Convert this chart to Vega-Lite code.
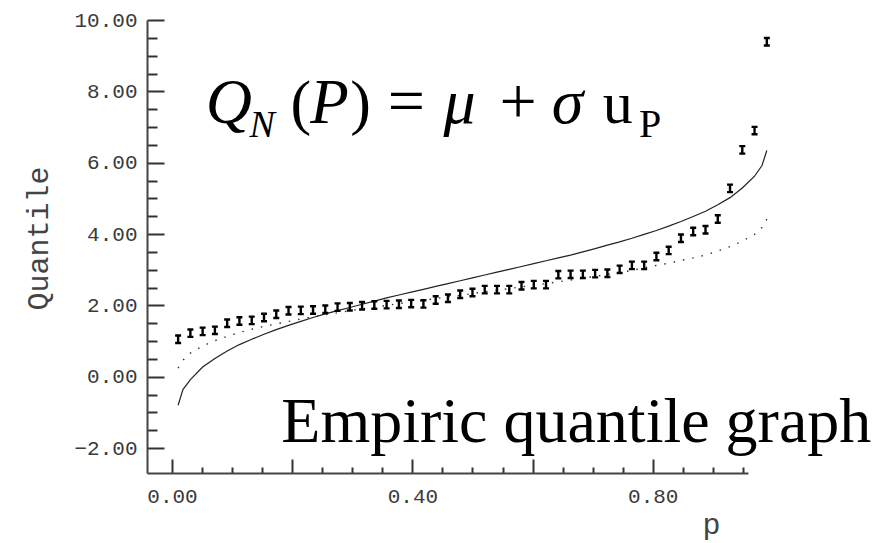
{
  "$schema": "https://vega.github.io/schema/vega-lite/v6.json",
  "autosize": {"type": "none"},
  "width": 601,
  "height": 453,
  "padding": {"left": 147, "top": 20, "right": 142, "bottom": 70},
  "background": "white",
  "config": {"view": {"stroke": null}},
  "datasets": {
    "sample": [
      {"p": 0.0102, "q": 1.05}, {"p": 0.0306, "q": 1.22}, {"p": 0.0510, "q": 1.27},
      {"p": 0.0714, "q": 1.30}, {"p": 0.0918, "q": 1.50}, {"p": 0.1122, "q": 1.56},
      {"p": 0.1327, "q": 1.58}, {"p": 0.1531, "q": 1.66}, {"p": 0.1735, "q": 1.75},
      {"p": 0.1939, "q": 1.85}, {"p": 0.2143, "q": 1.86}, {"p": 0.2347, "q": 1.87},
      {"p": 0.2551, "q": 1.89}, {"p": 0.2755, "q": 1.95}, {"p": 0.2959, "q": 1.96},
      {"p": 0.3163, "q": 1.99}, {"p": 0.3367, "q": 2.01}, {"p": 0.3571, "q": 2.02},
      {"p": 0.3776, "q": 2.03}, {"p": 0.3980, "q": 2.05}, {"p": 0.4184, "q": 2.04},
      {"p": 0.4388, "q": 2.15}, {"p": 0.4592, "q": 2.20}, {"p": 0.4796, "q": 2.31},
      {"p": 0.5000, "q": 2.36}, {"p": 0.5204, "q": 2.44}, {"p": 0.5408, "q": 2.44},
      {"p": 0.5612, "q": 2.44}, {"p": 0.5816, "q": 2.55}, {"p": 0.6020, "q": 2.58},
      {"p": 0.6224, "q": 2.58}, {"p": 0.6429, "q": 2.86}, {"p": 0.6633, "q": 2.87},
      {"p": 0.6837, "q": 2.87}, {"p": 0.7041, "q": 2.89}, {"p": 0.7245, "q": 2.90},
      {"p": 0.7449, "q": 3.01}, {"p": 0.7653, "q": 3.12}, {"p": 0.7857, "q": 3.12},
      {"p": 0.8061, "q": 3.37}, {"p": 0.8265, "q": 3.54}, {"p": 0.8469, "q": 3.88},
      {"p": 0.8673, "q": 4.07}, {"p": 0.8878, "q": 4.12}, {"p": 0.9082, "q": 4.42},
      {"p": 0.9286, "q": 5.28}, {"p": 0.9490, "q": 6.36}, {"p": 0.9694, "q": 6.90},
      {"p": 0.9898, "q": 9.39}
    ],
    "fitted": [
      {"p": 0.0102, "normal": -0.80, "robust": 0.24}, {"p": 0.0182, "normal": -0.36, "robust": 0.46},
      {"p": 0.0306, "normal": -0.08, "robust": 0.66},
      {"p": 0.0510, "normal": 0.27, "robust": 0.86}, {"p": 0.0714, "normal": 0.51, "robust": 1.01},
      {"p": 0.0918, "normal": 0.72, "robust": 1.13}, {"p": 0.1122, "normal": 0.90, "robust": 1.24},
      {"p": 0.1327, "normal": 1.05, "robust": 1.33}, {"p": 0.1531, "normal": 1.19, "robust": 1.41},
      {"p": 0.1735, "normal": 1.32, "robust": 1.48}, {"p": 0.1939, "normal": 1.44, "robust": 1.55},
      {"p": 0.2143, "normal": 1.55, "robust": 1.62}, {"p": 0.2347, "normal": 1.66, "robust": 1.68},
      {"p": 0.2551, "normal": 1.76, "robust": 1.74}, {"p": 0.2755, "normal": 1.85, "robust": 1.79},
      {"p": 0.2959, "normal": 1.94, "robust": 1.85}, {"p": 0.3163, "normal": 2.03, "robust": 1.90},
      {"p": 0.3367, "normal": 2.12, "robust": 1.95}, {"p": 0.3571, "normal": 2.21, "robust": 2.00},
      {"p": 0.3776, "normal": 2.29, "robust": 2.05}, {"p": 0.3980, "normal": 2.37, "robust": 2.10},
      {"p": 0.4184, "normal": 2.45, "robust": 2.14}, {"p": 0.4388, "normal": 2.53, "robust": 2.19},
      {"p": 0.4592, "normal": 2.61, "robust": 2.24}, {"p": 0.4796, "normal": 2.69, "robust": 2.28},
      {"p": 0.5000, "normal": 2.77, "robust": 2.33}, {"p": 0.5204, "normal": 2.85, "robust": 2.38},
      {"p": 0.5408, "normal": 2.93, "robust": 2.42}, {"p": 0.5612, "normal": 3.01, "robust": 2.47},
      {"p": 0.5816, "normal": 3.09, "robust": 2.52}, {"p": 0.6020, "normal": 3.17, "robust": 2.56},
      {"p": 0.6224, "normal": 3.25, "robust": 2.61}, {"p": 0.6429, "normal": 3.33, "robust": 2.66},
      {"p": 0.6633, "normal": 3.41, "robust": 2.71}, {"p": 0.6837, "normal": 3.50, "robust": 2.76},
      {"p": 0.7041, "normal": 3.59, "robust": 2.81}, {"p": 0.7245, "normal": 3.69, "robust": 2.87},
      {"p": 0.7449, "normal": 3.78, "robust": 2.92}, {"p": 0.7653, "normal": 3.88, "robust": 2.98},
      {"p": 0.7857, "normal": 3.99, "robust": 3.05}, {"p": 0.8061, "normal": 4.10, "robust": 3.12},
      {"p": 0.8265, "normal": 4.22, "robust": 3.18}, {"p": 0.8469, "normal": 4.35, "robust": 3.26},
      {"p": 0.8673, "normal": 4.49, "robust": 3.33}, {"p": 0.8878, "normal": 4.64, "robust": 3.41},
      {"p": 0.9082, "normal": 4.82, "robust": 3.52}, {"p": 0.9286, "normal": 5.02, "robust": 3.65},
      {"p": 0.9490, "normal": 5.29, "robust": 3.80}, {"p": 0.9694, "normal": 5.62, "robust": 3.99},
      {"p": 0.9818, "normal": 5.92, "robust": 4.18},
      {"p": 0.9898, "normal": 6.34, "robust": 4.42}
    ],
    "one": [{}]
  },
  "encoding": {
    "x": {
      "type": "quantitative",
      "scale": {"domain": [-0.0416, 0.9585], "nice": false, "zero": false},
      "axis": {
        "title": "p",
        "titleFont": "Liberation Mono",
        "titleFontSize": 30,
        "titleFontWeight": "normal",
        "titleColor": "#444444",
        "titleAnchor": "start",
        "titleAlign": "center",
        "titleBaseline": "alphabetic",
        "titleX": 564,
        "titleY": 60,
        "values": [0, 0.05, 0.1, 0.15, 0.2, 0.25, 0.3, 0.35, 0.4, 0.45, 0.5, 0.55, 0.6, 0.65, 0.7, 0.75, 0.8, 0.85, 0.9, 0.95],
        "labelExpr": "abs(datum.value * 2.5 - round(datum.value * 2.5)) < 0.01 ? format(datum.value, '.2f') : ''",
        "labelFont": "Liberation Mono",
        "labelFontSize": 21,
        "labelColor": "#3a3a3a",
        "labelPadding": 26,
        "labelBaseline": "top",
        "labelFlush": false,
        "labelOverlap": false,
        "grid": false,
        "domainColor": "#444444",
        "domainWidth": 2,
        "tickColor": "#333333",
        "tickWidth": 2,
        "tickSize": {"condition": {"test": "abs(datum.value * 5 - round(datum.value * 5)) < 0.01", "value": -14}, "value": -6}
      }
    },
    "y": {
      "type": "quantitative",
      "scale": {"domain": [-2.7, 10], "nice": false, "zero": false},
      "axis": {
        "title": "Quantile",
        "titleFont": "Liberation Mono",
        "titleFontSize": 30,
        "titleFontWeight": "normal",
        "titleColor": "#444444",
        "titleAngle": -90,
        "titleAlign": "center",
        "titleBaseline": "middle",
        "titleX": -109,
        "titleY": 218,
        "values": [-2, -1.5, -1, -0.5, 0, 0.5, 1, 1.5, 2, 2.5, 3, 3.5, 4, 4.5, 5, 5.5, 6, 6.5, 7, 7.5, 8, 8.5, 9, 9.5, 10],
        "labelExpr": "abs(datum.value / 2 - round(datum.value / 2)) < 0.01 ? format(datum.value, '.2f') : ''",
        "labelFont": "Liberation Mono",
        "labelFontSize": 21,
        "labelColor": "#3a3a3a",
        "labelPadding": 27,
        "labelFlush": false,
        "labelOverlap": false,
        "grid": false,
        "domainColor": "#444444",
        "domainWidth": 2,
        "tickColor": "#333333",
        "tickWidth": 2,
        "tickSize": {"condition": {"test": "abs(datum.value / 2 - round(datum.value / 2)) < 0.01", "value": -17}, "value": -10}
      }
    }
  },
  "layer": [
    {
      "data": {"name": "fitted"},
      "mark": {"type": "line", "color": "#222222", "strokeWidth": 1.2},
      "encoding": {"x": {"field": "p", "type": "quantitative"}, "y": {"field": "normal", "type": "quantitative"}}
    },
    {
      "data": {"name": "fitted"},
      "mark": {"type": "line", "color": "#333333", "strokeWidth": 1.4, "strokeDash": [1.5, 8]},
      "encoding": {"x": {"field": "p", "type": "quantitative"}, "y": {"field": "robust", "type": "quantitative"}}
    },
    {
      "data": {"name": "sample"},
      "mark": {"type": "point", "shape": "M-0.8,-1H0.8M0,-1V1M-0.8,1H0.8", "size": 56, "filled": false, "stroke": "#000000", "strokeWidth": 2.4, "opacity": 1},
      "encoding": {"x": {"field": "p", "type": "quantitative"}, "y": {"field": "q", "type": "quantitative"}}
    },
    {
      "data": {"name": "one"},
      "mark": {"type": "text", "text": "Q", "font": "Liberation Serif", "fontStyle": "italic", "fontSize": 64, "align": "left", "baseline": "alphabetic", "color": "#000000"},
      "encoding": {"x": {"datum": 0.0560}, "y": {"datum": 7.114}}
    },
    {
      "data": {"name": "one"},
      "mark": {"type": "text", "text": "N", "font": "Liberation Serif", "fontStyle": "italic", "fontSize": 38, "align": "left", "baseline": "alphabetic", "color": "#000000"},
      "encoding": {"x": {"datum": 0.1289}, "y": {"datum": 6.722}}
    },
    {
      "data": {"name": "one"},
      "mark": {"type": "text", "text": "(", "font": "Liberation Serif", "fontSize": 62, "align": "left", "baseline": "alphabetic", "color": "#000000"},
      "encoding": {"x": {"datum": 0.1970}, "y": {"datum": 7.114}}
    },
    {
      "data": {"name": "one"},
      "mark": {"type": "text", "text": "P", "font": "Liberation Serif", "fontStyle": "italic", "fontSize": 63, "align": "left", "baseline": "alphabetic", "color": "#000000"},
      "encoding": {"x": {"datum": 0.2300}, "y": {"datum": 7.114}}
    },
    {
      "data": {"name": "one"},
      "mark": {"type": "text", "text": ")", "font": "Liberation Serif", "fontSize": 62, "align": "left", "baseline": "alphabetic", "color": "#000000"},
      "encoding": {"x": {"datum": 0.2965}, "y": {"datum": 7.114}}
    },
    {
      "data": {"name": "one"},
      "mark": {"type": "text", "text": "=", "font": "Liberation Serif", "fontSize": 66, "align": "left", "baseline": "alphabetic", "color": "#000000"},
      "encoding": {"x": {"datum": 0.3590}, "y": {"datum": 7.114}}
    },
    {
      "data": {"name": "one"},
      "mark": {"type": "text", "text": "μ", "font": "Liberation Serif", "fontStyle": "italic", "fontSize": 64, "align": "left", "baseline": "alphabetic", "color": "#000000"},
      "encoding": {"x": {"datum": 0.4520}, "y": {"datum": 7.114}}
    },
    {
      "data": {"name": "one"},
      "mark": {"type": "text", "text": "+", "font": "Liberation Serif", "fontSize": 66, "align": "left", "baseline": "alphabetic", "color": "#000000"},
      "encoding": {"x": {"datum": 0.5450}, "y": {"datum": 7.114}}
    },
    {
      "data": {"name": "one"},
      "mark": {"type": "text", "text": "σ", "font": "Liberation Serif", "fontStyle": "italic", "fontSize": 64, "align": "left", "baseline": "alphabetic", "color": "#000000"},
      "encoding": {"x": {"datum": 0.6320}, "y": {"datum": 7.114}}
    },
    {
      "data": {"name": "one"},
      "mark": {"type": "text", "text": "u", "font": "Liberation Serif", "fontSize": 60, "align": "left", "baseline": "alphabetic", "color": "#000000"},
      "encoding": {"x": {"datum": 0.7170}, "y": {"datum": 7.114}}
    },
    {
      "data": {"name": "one"},
      "mark": {"type": "text", "text": "P", "font": "Liberation Serif", "fontSize": 40, "align": "left", "baseline": "alphabetic", "color": "#000000"},
      "encoding": {"x": {"datum": 0.7773}, "y": {"datum": 6.722}}
    },
    {
      "data": {"name": "one"},
      "mark": {"type": "text", "text": "Empiric quantile graph", "font": "Liberation Serif", "fontSize": 64, "align": "left", "baseline": "alphabetic", "color": "#000000"},
      "encoding": {"x": {"datum": 0.1819}, "y": {"datum": -1.824}}
    }
  ]
}
